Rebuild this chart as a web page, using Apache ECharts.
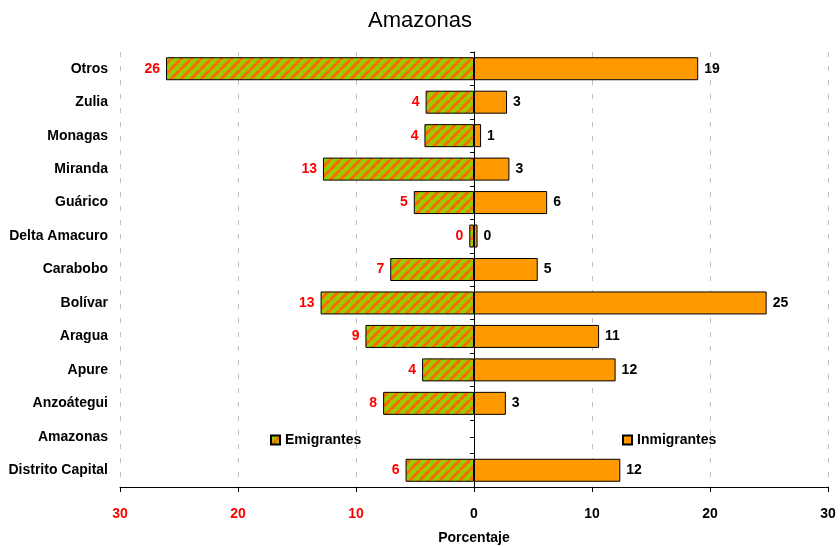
<!DOCTYPE html>
<html>
<head>
<meta charset="utf-8">
<script src="https://cdn.jsdelivr.net/npm/echarts@6/dist/echarts.min.js"></script>
<style>
  html, body { margin: 0; padding: 0; background: #fff; }
  #chart { width: 840px; height: 546px; }
</style>
</head>
<body>
<div id="chart"></div>
<script>
const estados = [
  "Otros", "Zulia", "Monagas", "Miranda", "Guárico", "Delta Amacuro", "Carabobo",
  "Bolívar", "Aragua", "Apure", "Anzoátegui", "Amazonas", "Distrito Capital",
];
// porcentajes (emigrantes se dibujan hacia la izquierda)
const emigrantes = [26.1, 4.1, 4.2, 12.8, 5.1, 0.4, 7.1, 13.0, 9.2, 4.4, 7.7, null, 5.8];
const inmigrantes = [19.0, 2.8, 0.6, 3.0, 6.2, 0.3, 5.4, 24.8, 10.6, 12.0, 2.7, null, 12.4];

// trama verde con rayas naranjas
function stripePattern() {
  const s = 10;
  const c = document.createElement("canvas");
  c.width = s;
  c.height = s;
  const ctx = c.getContext("2d");
  ctx.fillStyle = "#99cc00";
  ctx.fillRect(0, 0, s, s);
  ctx.strokeStyle = "#ff6600";
  ctx.lineWidth = 3;
  [-s, 0, s].forEach((o) => {
    ctx.beginPath();
    ctx.moveTo(o, s);
    ctx.lineTo(o + s, 0);
    ctx.stroke();
  });
  return c;
}

const chart = echarts.init(document.getElementById("chart"));
const bold = { fontFamily: "Liberation Sans, Arial, sans-serif", fontWeight: "bold", fontSize: 14 };

chart.setOption({
  animation: false,
  title: {
    text: "Amazonas",
    left: "center",
    top: 5,
    textStyle: { fontFamily: "Liberation Sans Narrow, Arial Narrow, sans-serif", fontWeight: "normal", fontSize: 22, color: "#000" },
  },
  legend: [
    {
      data: ["Emigrantes"],
      left: 265,
      top: 428,
      icon: "rect",
      itemWidth: 9,
      itemHeight: 9,
      itemGap: 4,
      textStyle: { ...bold, color: "#000" },
    },
    {
      data: ["Inmigrantes"],
      left: 617,
      top: 428,
      icon: "rect",
      itemWidth: 9,
      itemHeight: 9,
      itemGap: 4,
      textStyle: { ...bold, color: "#000" },
    },
  ],
  grid: { left: 120, right: 12, top: 52, bottom: 59, containLabel: false, outerBoundsMode: "none" },
  xAxis: {
    type: "value",
    min: -30,
    max: 30,
    interval: 10,
    name: "Porcentaje",
    nameLocation: "middle",
    nameGap: 44,
    nameTextStyle: { ...bold, color: "#000" },
    axisLine: { show: true, onZero: false, lineStyle: { color: "#000" } },
    axisTick: { show: true, length: 5, lineStyle: { color: "#000" } },
    axisLabel: {
      margin: 20,
      ...bold,
      formatter: (v) => String(Math.abs(v)),
      color: (v) => (Number(v) < 0 ? "#ff0000" : "#000"),
    },
    splitLine: {
      show: true,
      lineStyle: { color: "#c0c0c0", type: [5, 9], width: 1 },
    },
  },
  yAxis: [
    {
      type: "category",
      data: estados,
      inverse: true,
      axisLine: { show: false, onZero: false },
      axisTick: { show: false },
      axisLabel: { ...bold, color: "#000", margin: 12 },
    },
    {
      // eje central: marcas cada media categoría
      type: "category",
      data: estados.flatMap((e) => [e, e]),
      inverse: true,
      position: "left",
      axisLine: { show: true, onZero: true, lineStyle: { color: "#000" } },
      axisTick: { show: true, length: 4, interval: 0, lineStyle: { color: "#000" } },
      axisLabel: { show: false },
    },
  ],
  series: [
    {
      name: "Emigrantes",
      type: "bar",
      yAxisIndex: 0,
      data: emigrantes.map((v) => (v == null ? null : -v)),
      barWidth: 23,
      barGap: "-100%",
      itemStyle: {
        color: { image: stripePattern(), repeat: "repeat" },
        borderColor: "#000",
        borderWidth: 1,
      },
      label: {
        show: true,
        position: "left",
        distance: 6,
        ...bold,
        color: "#ff0000",
        formatter: (p) => String(Math.round(Math.abs(p.value))),
      },
    },
    {
      name: "Inmigrantes",
      type: "bar",
      yAxisIndex: 0,
      data: inmigrantes,
      barWidth: 23,
      itemStyle: { color: "#ff9900", borderColor: "#000", borderWidth: 1 },
      label: {
        show: true,
        position: "right",
        distance: 6,
        ...bold,
        color: "#000",
        formatter: (p) => String(Math.round(p.value)),
      },
    },
  ],
});
</script>
</body>
</html>
